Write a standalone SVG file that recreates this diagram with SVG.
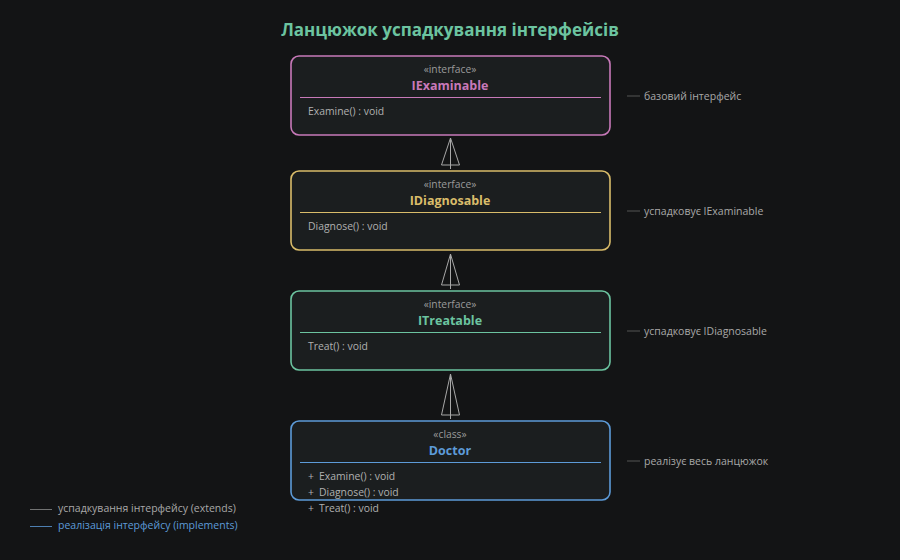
<svg xmlns="http://www.w3.org/2000/svg" width="900" height="560" viewBox="0 0 900 560">
<style>
text{font-family:"Open Sans","Noto Sans",sans-serif;}
.title{font-size:17px;font-weight:bold;fill:#6cc4a0;text-anchor:middle;}
.box{fill:#1b1e1f;stroke-width:1.6;}
.st{font-size:10.3px;fill:#9a9a9a;text-anchor:middle;}
.nm{font-size:12.5px;font-weight:bold;text-anchor:middle;}
.m{font-size:10.4px;fill:#b0b0b0;}
.ann{font-size:10.5px;fill:#a8a8a8;}
.annl{stroke:#555;stroke-width:1;}
.edge{stroke:#a8a8a8;stroke-width:1;fill:none;}
.tri{stroke:#a8a8a8;stroke-width:1;fill:#131415;}
</style>
<rect width="900" height="560" fill="#131415"/>
<text class="title" x="450" y="36">Ланцюжок успадкування інтерфейсів</text>

<g id="connectors">
<polygon class="tri" points="450.5,138 441.5,165 459.5,165"/>
<line class="edge" x1="450.5" y1="138" x2="450.5" y2="169"/>
<polygon class="tri" points="450.5,254 441.5,285 459.5,285"/>
<line class="edge" x1="450.5" y1="254" x2="450.5" y2="289"/>
<polygon class="tri" points="450.5,374 441.5,415 459.5,415"/>
<line class="edge" x1="450.5" y1="374" x2="450.5" y2="419"/>
</g>

<g id="IExaminable">
<rect class="box" x="291" y="56" width="319" height="79" rx="8" stroke="#c879b9"/>
<text class="st" x="450" y="73">«interface»</text>
<text class="nm" x="450" y="90" fill="#c879b9">IExaminable</text>
<line x1="300" y1="97.5" x2="601" y2="97.5" stroke="#c879b9" stroke-width="1"/>
<text class="m" x="308" y="115">Examine() : void</text>
</g>

<g id="IDiagnosable">
<rect class="box" x="291" y="171" width="319" height="79" rx="8" stroke="#d9bc6a"/>
<text class="st" x="450" y="188">«interface»</text>
<text class="nm" x="450" y="205" fill="#d9bc6a">IDiagnosable</text>
<line x1="300" y1="212.5" x2="601" y2="212.5" stroke="#d9bc6a" stroke-width="1"/>
<text class="m" x="308" y="230">Diagnose() : void</text>
</g>

<g id="ITreatable">
<rect class="box" x="291" y="291" width="319" height="79" rx="8" stroke="#6cc4a0"/>
<text class="st" x="450" y="308">«interface»</text>
<text class="nm" x="450" y="325" fill="#6cc4a0">ITreatable</text>
<line x1="300" y1="332.5" x2="601" y2="332.5" stroke="#6cc4a0" stroke-width="1"/>
<text class="m" x="308" y="350">Treat() : void</text>
</g>

<g id="Doctor">
<rect class="box" x="291" y="421" width="319" height="79" rx="8" stroke="#5d9bd8"/>
<text class="st" x="450" y="438">«class»</text>
<text class="nm" x="450" y="455" fill="#5d9bd8">Doctor</text>
<line x1="300" y1="462.5" x2="601" y2="462.5" stroke="#5d9bd8" stroke-width="1"/>
<text class="m" x="308" y="480">+</text><text class="m" x="319" y="480">Examine() : void</text>
<text class="m" x="308" y="496">+</text><text class="m" x="319" y="496">Diagnose() : void</text>
<text class="m" x="308" y="512">+</text><text class="m" x="319" y="512">Treat() : void</text>
</g>

<g id="annotations">
<line class="annl" x1="627" y1="96" x2="640" y2="96"/>
<text class="ann" x="644" y="100">базовий інтерфейс</text>
<line class="annl" x1="627" y1="211" x2="640" y2="211"/>
<text class="ann" x="644" y="215">успадковує IExaminable</text>
<line class="annl" x1="627" y1="331" x2="640" y2="331"/>
<text class="ann" x="644" y="335">успадковує IDiagnosable</text>
<line class="annl" x1="627" y1="461" x2="640" y2="461"/>
<text class="ann" x="644" y="465">реалізує весь ланцюжок</text>
</g>

<g id="legend">
<line x1="30" y1="509.5" x2="52" y2="509.5" stroke="#8a8a8a" stroke-width="0.8"/>
<text class="ann" x="58" y="512">успадкування інтерфейсу (extends)</text>
<line x1="30" y1="526.5" x2="52" y2="526.5" stroke="#5d9bd8" stroke-width="0.8"/>
<text class="ann" x="58" y="529" style="fill:#5d9bd8">реалізація інтерфейсу (implements)</text>
</g>
</svg>
